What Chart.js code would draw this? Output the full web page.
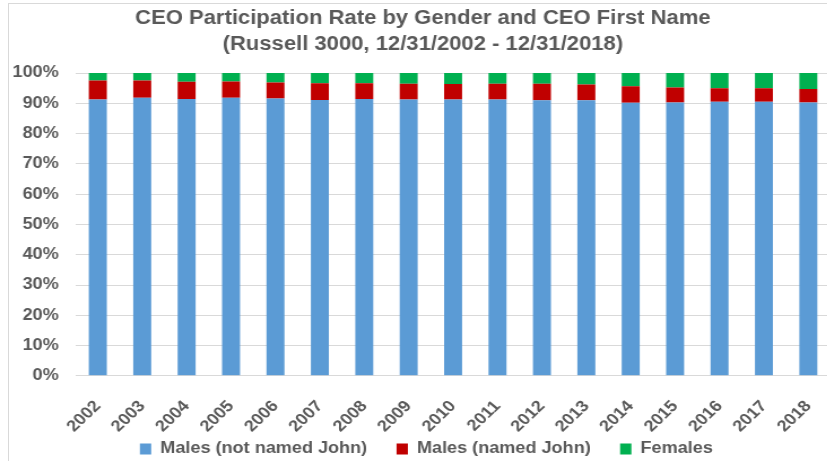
<!DOCTYPE html>
<html><head><meta charset="utf-8">
<script src="https://cdn.jsdelivr.net/npm/chart.js@4/dist/chart.umd.min.js"></script>
<style>
html,body{margin:0;padding:0;background:#fff;overflow:hidden;}
#wrap{position:absolute;left:0;top:0;width:827px;height:461px;overflow:hidden;}
#c{position:absolute;left:0;top:0;transform:scaleX(1.13);transform-origin:0 0;}
#frame{position:absolute;left:8px;top:3px;width:830px;height:470px;border:1px solid #d9d9d9;box-sizing:border-box;pointer-events:none;}
</style></head>
<body>
<div id="wrap"><canvas id="c" width="754" height="461" style="width:754px;height:461px"></canvas><div id="frame"></div></div>
<script>
const years = ['2002','2003','2004','2005','2006','2007','2008','2009','2010','2011','2012','2013','2014','2015','2016','2017','2018'];
const malesNotJohn = [91.3,91.8,91.4,91.8,91.6,91.1,91.4,91.3,91.3,91.3,91.0,91.0,90.2,90.3,90.5,90.5,90.3];
const malesJohn    = [6.2,5.7,5.7,5.4,5.3,5.5,5.2,5.2,5.1,5.2,5.5,5.2,5.4,4.9,4.5,4.5,4.4];
const females      = [2.5,2.5,2.9,2.8,3.1,3.4,3.4,3.5,3.6,3.5,3.5,3.8,4.4,4.8,5.0,5.0,5.3];
const seriesNames  = ['Males (not named John)','Males (named John)','Females'];
const yTicks = ['0%','10%','20%','30%','40%','50%','60%','70%','80%','90%','100%'];

const fam = '"Liberation Sans", Arial, sans-serif';
const font = {family:fam, weight:'bold', size:16};
const gray = '#595959';

const shiftBoxes = {
  id:'shiftBoxes',
  afterLayout(chart){
    const l = chart.legend; if (l) { l.left += 11.8; l.right += 11.8; }
    const t = chart.titleBlock; if (t) { t.left += 8.7; t.right += 8.7; }
  }
};

new Chart(document.getElementById('c'), {
  type:'bar',
  data:{
    labels: years,
    datasets:[
      {label:seriesNames[0], data:malesNotJohn, backgroundColor:'#5B9BD5'},
      {label:seriesNames[1], data:malesJohn, backgroundColor:'#C00000'},
      {label:seriesNames[2], data:females, backgroundColor:'#00B050'}
    ]
  },
  plugins:[shiftBoxes],
  options:{
    responsive:false,
    animation:false,
    layout:{padding:{left:-4,right:19,top:0,bottom:-6}},
    datasets:{bar:{categoryPercentage:1.0, barPercentage:0.405}},
    plugins:{
      title:{display:true, text:['CEO Participation Rate by Gender and CEO First Name','(Russell 3000, 12/31/2002 - 12/31/2018)'],
        color:gray, font:{family:fam, weight:'bold', size:19.5, lineHeight:1.36}, padding:{top:5,bottom:15}},
      legend:{position:'bottom', labels:{color:gray, font:font, boxWidth:10, boxHeight:11, padding:2,
        generateLabels:(chart)=>{
          const items = Chart.defaults.plugins.legend.labels.generateLabels(chart);
          items.forEach((it,i)=>{ if(i<items.length-1) it.text = it.text + '\u2003\u2002'; });
          return items;
        }}},
      tooltip:{enabled:false}
    },
    scales:{
      x:{stacked:true, grid:{display:false}, border:{display:false},
        afterFit:(s)=>{ s.paddingLeft = 0; s.paddingRight = 0; s.height -= 10; },
        ticks:{color:gray, font:font, minRotation:47, maxRotation:47, padding:13}},
      y:{stacked:true, min:0, max:100,
        grid:{color:'#d9d9d9', drawTicks:false}, border:{display:false},
        ticks:{stepSize:10, color:gray, font:font, padding:15,
          callback:(v)=>yTicks[Math.round(v/10)]}}
    }
  }
});
</script>
</body></html>
